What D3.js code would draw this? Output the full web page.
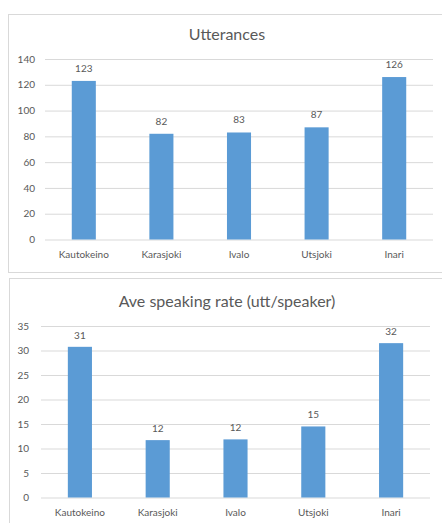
<!DOCTYPE html>
<html>
<head>
<meta charset="utf-8">
<script src="https://cdn.jsdelivr.net/npm/d3@7"></script>
<style>
  html, body { margin: 0; padding: 0; background: #ffffff; }
  svg { display: block; }
  text { font-family: Lato, "Open Sans", sans-serif; fill: #595959; }
</style>
</head>
<body>
<svg id="chart" width="442" height="523"></svg>
<script>
// Locations shared by both charts
const categories = ["Kautokeino", "Karasjoki", "Ivalo", "Utsjoki", "Inari"];

// Number of utterances per location
const utterances = [123, 82, 83, 87, 126];
const utteranceTicks = [0, 20, 40, 60, 80, 100, 120, 140];

// Average utterances per speaker per location
const speakingRate = [30.75, 11.71, 11.86, 14.5, 31.5];
const speakingRateTicks = [0, 5, 10, 15, 20, 25, 30, 35];

const svg = d3.select("#chart");
const barColor = "#5b9bd5";
const lineColor = "#d9d9d9";

function drawChart(cfg) {
  const g = svg.append("g");

  // chart frame
  g.append("rect")
    .attr("x", cfg.frame.x + 0.5).attr("y", cfg.frame.y + 0.5)
    .attr("width", cfg.frame.w).attr("height", cfg.frame.h)
    .attr("fill", "#ffffff").attr("stroke", lineColor).attr("stroke-width", 1);

  // title
  g.append("text")
    .attr("x", cfg.titleX).attr("y", cfg.titleY)
    .attr("text-anchor", "middle")
    .style("font-size", "16px")
    .text(cfg.title);

  const x = d3.scaleBand()
    .domain(categories)
    .range([cfg.left, cfg.right])
    .paddingInner(0.69)
    .paddingOuter(0.345);

  const y = d3.scaleLinear()
    .domain([0, d3.max(cfg.ticks)])
    .range([cfg.bottom, cfg.top]);

  // horizontal gridlines with tick labels
  const yAxis = d3.axisLeft(y)
    .tickValues(cfg.ticks)
    .tickSize(-(cfg.right - cfg.left))
    .tickPadding(cfg.tickGap)
    .tickFormat(d3.format("d"));

  const ya = g.append("g")
    .attr("transform", `translate(${cfg.left},0)`)
    .call(yAxis);
  ya.select(".domain").remove();
  ya.selectAll(".tick line").attr("stroke", lineColor);
  ya.selectAll(".tick text")
    .style("font-size", "10px")
    .style("font-family", "Lato, 'Open Sans', sans-serif")
    .attr("fill", "#595959");

  // category axis labels
  const xa = g.append("g")
    .attr("transform", `translate(0,${cfg.bottom})`)
    .call(d3.axisBottom(x).tickSize(0).tickPadding(cfg.catGap));
  xa.select(".domain").remove();
  xa.selectAll(".tick text")
    .style("font-size", "10px")
    .style("font-family", "Lato, 'Open Sans', sans-serif")
    .attr("fill", "#595959");

  // bars
  g.selectAll("rect.bar")
    .data(cfg.values)
    .join("rect")
    .attr("class", "bar")
    .attr("x", (d, i) => x(categories[i]))
    .attr("width", x.bandwidth())
    .attr("y", d => y(d))
    .attr("height", d => y(0) - y(d))
    .attr("fill", barColor);

  // value labels above bars
  g.selectAll("text.value")
    .data(cfg.values)
    .join("text")
    .attr("class", "value")
    .attr("x", (d, i) => x(categories[i]) + x.bandwidth() / 2)
    .attr("y", d => y(d) - cfg.labelGap)
    .attr("text-anchor", "middle")
    .style("font-size", "10px")
    .text(d => d3.format(".0f")(d));
}

drawChart({
  title: "Utterances",
  values: utterances,
  ticks: utteranceTicks,
  frame: { x: 8, y: 14, w: 440, h: 258 },
  titleX: 227, titleY: 40,
  left: 45, right: 433, top: 59, bottom: 239.5,
  tickGap: 10, catGap: 11.5, labelGap: 9
});

drawChart({
  title: "Ave speaking rate (utt/speaker)",
  values: speakingRate,
  ticks: speakingRateTicks,
  frame: { x: 9, y: 278, w: 440, h: 260 },
  titleX: 227, titleY: 307,
  left: 41, right: 430, top: 326, bottom: 497.5,
  tickGap: 12, catGap: 11, labelGap: 8
});
</script>
</body>
</html>
